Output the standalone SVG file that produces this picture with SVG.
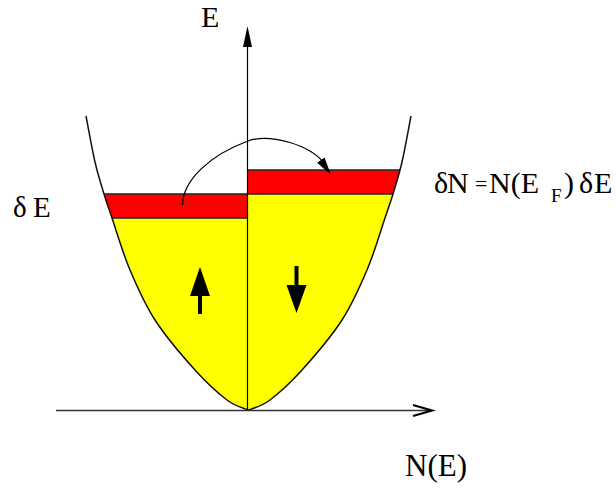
<svg xmlns="http://www.w3.org/2000/svg" width="616" height="488" viewBox="0 0 616 488">
<style>
.lbl{font-family:'Liberation Serif','Times New Roman',serif;fill:#000}
.band{stroke:#222;stroke-width:1.5}
</style>
<defs>
<clipPath id="bowl">
<path d="M86,116 C87.5,123.7 92,149 95,162 C98,175 101.2,184.7 104,194 C106.8,203.3 107.7,205.3 112,218 C116.3,230.7 122.8,253 130,270 C137.2,287 144.2,303.3 155,320 C165.8,336.7 183,356.7 195,370 C207,383.3 218.2,393.3 227,400 C235.8,406.7 244.5,408.3 248,410 L249,410 C252.5,408.3 261.2,406.7 270,400 C278.8,393.3 290,383.3 302,370 C314,356.7 331.2,336.7 342,320 C352.8,303.3 359.8,287 367,270 C374.2,253 380.7,230.7 385,218 C389.3,205.3 390.2,203.3 393,194 C395.8,184.7 399,175 402,162 C405,149 409.5,123.7 411,116 Z"/>
</clipPath>
</defs>
<rect width="616" height="488" fill="#fff"/>
<g id="bands" clip-path="url(#bowl)">
<rect x="0" y="218" width="248" height="200" fill="#ffff00"/>
<rect x="0" y="194" width="248" height="24" fill="#ff0000"/>
<rect x="248" y="194" width="300" height="220" fill="#ffff00"/>
<rect x="248" y="170" width="300" height="24" fill="#ff0000"/>
<line class="band" x1="0" y1="194" x2="248" y2="194"/>
<line class="band" x1="0" y1="218" x2="248" y2="218"/>
<line class="band" x1="248" y1="170" x2="600" y2="170"/>
<line class="band" x1="248" y1="194" x2="600" y2="194"/>
</g>
<g id="curve">
<path d="M86,116 C87.5,123.7 92,149 95,162 C98,175 101.2,184.7 104,194 C106.8,203.3 107.7,205.3 112,218 C116.3,230.7 122.8,253 130,270 C137.2,287 144.2,303.3 155,320 C165.8,336.7 183,356.7 195,370 C207,383.3 218.2,393.3 227,400 C235.8,406.7 244.5,408.3 248,410 L249,410 C252.5,408.3 261.2,406.7 270,400 C278.8,393.3 290,383.3 302,370 C314,356.7 331.2,336.7 342,320 C352.8,303.3 359.8,287 367,270 C374.2,253 380.7,230.7 385,218 C389.3,205.3 390.2,203.3 393,194 C395.8,184.7 399,175 402,162 C405,149 409.5,123.7 411,116" fill="none" stroke="#111" stroke-width="1.5"/>
</g>
<g id="connectors">
<line x1="56" y1="410.5" x2="431" y2="410.5" stroke="#333" stroke-width="1.4"/>
<polyline points="413,405 432,410.5 413,416" fill="none" stroke="#000" stroke-width="2.2"/>
<line x1="247.5" y1="410" x2="247.5" y2="40" stroke="#000" stroke-width="1.2"/>
<polygon points="247.5,26 252,47 243,47" fill="#000"/>
<path d="M182.5,205 C183,180 210,155 248,141 C270,133 310,145 324,163" fill="none" stroke="#000" stroke-width="1.3"/>
<polygon points="331,175 324.5,157.5 317.2,162.7" fill="#000"/>
<rect x="198" y="292" width="4" height="22" fill="#000"/>
<polygon points="190,296 210,296 200,267" fill="#000"/>
<rect x="294.5" y="266" width="4" height="22" fill="#000"/>
<polygon points="286.5,285 306.5,285 296.5,313" fill="#000"/>
</g>
<g id="labels">
<text class="lbl" x="201" y="27" font-size="30">E</text>
<text class="lbl" x="405" y="476" font-size="31">N(E)</text>
<text class="lbl" y="217" font-size="29"><tspan x="13">δ</tspan><tspan x="33">E</tspan></text>
<text class="lbl" y="193" font-size="30"><tspan x="434">δ</tspan><tspan x="447">N</tspan><tspan x="475" font-size="22" y="191">=</tspan><tspan x="489" y="193">N(E</tspan><tspan x="551" y="202" font-size="19">F</tspan><tspan x="564" y="193">)</tspan><tspan x="579">δ</tspan><tspan x="594">E</tspan></text>
</g>
</svg>
